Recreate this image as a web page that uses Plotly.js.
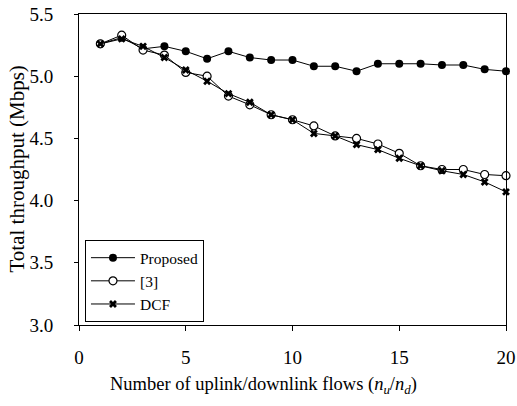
<!DOCTYPE html>
<html>
<head>
<meta charset="utf-8">
<script src="https://cdn.plot.ly/plotly-3.0.1.min.js"></script>
<style>html,body{margin:0;padding:0;background:#fff;}#chart{width:517px;height:406px;}</style>
</head>
<body>
<div id="chart"></div>
<script>
const flows = [1,2,3,4,5,6,7,8,9,10,11,12,13,14,15,16,17,18,19,20];
const proposed = [5.26,5.31,5.22,5.24,5.20,5.14,5.20,5.15,5.13,5.13,5.08,5.08,5.04,5.10,5.10,5.10,5.09,5.09,5.055,5.04];
const ref3 = [5.26,5.33,5.21,5.17,5.03,5.00,4.84,4.77,4.69,4.65,4.60,4.52,4.50,4.455,4.38,4.28,4.25,4.25,4.21,4.20];
const dcf = [5.26,5.30,5.24,5.15,5.05,4.96,4.86,4.79,4.69,4.65,4.54,4.52,4.45,4.41,4.34,4.28,4.24,4.21,4.15,4.07];
const seriesNames = ['Proposed','[3]','DCF'];
const xTicks = [0,5,10,15,20];
const yTicks = [3.0,3.5,4.0,4.5,5.0,5.5];
const xTitle = 'Number of uplink/downlink flows (<i>n<sub>u</sub></i>/<i>n<sub>d</sub></i>)';
const yTitle = 'Total throughput (Mbps)';

const font = 'Liberation Serif, Times New Roman, serif';
const traces = [
  {x: flows, y: proposed, name: seriesNames[0], mode: 'lines+markers', cliponaxis: false,
   line: {color: '#000', width: 1}, marker: {symbol: 'circle', size: 8, color: '#000'}},
  {x: flows, y: ref3, name: seriesNames[1], mode: 'lines+markers', cliponaxis: false,
   line: {color: '#000', width: 1}, marker: {symbol: 'circle', size: 8, color: '#fff', line: {color: '#000', width: 1.2}}},
  {x: flows, y: dcf, name: seriesNames[2], mode: 'lines+markers', cliponaxis: false,
   line: {color: '#000', width: 1}, marker: {symbol: 'x', size: 7, color: '#000', line: {width: 0}}}
];
const layout = {
  width: 517, height: 406,
  margin: {l: 79, r: 11, t: 14, b: 81},
  paper_bgcolor: '#fff', plot_bgcolor: '#fff',
  font: {family: font, size: 18, color: '#000'},
  showlegend: true,
  legend: {x: 0.014, y: 0.273, xanchor: 'left', yanchor: 'top', bgcolor: '#fff',
           bordercolor: '#000', borderwidth: 1, font: {family: font, size: 15.5, color: '#000'},
           tracegroupgap: 0, itemwidth: 44, entrywidth: 120, entrywidthmode: 'pixels'},
  xaxis: {range: [0, 20], tickvals: xTicks, ticktext: xTicks.map(String), showgrid: false, zeroline: false,
          showline: true, linecolor: '#000', linewidth: 1, mirror: true, ticks: 'outside', ticklen: 5,
          tickcolor: '#000', tickfont: {size: 19}, ticklabelstandoff: 10},
  yaxis: {range: [3, 5.5], tickvals: yTicks, ticktext: yTicks.map(v => v.toFixed(1)), showgrid: false, zeroline: false,
          showline: true, linecolor: '#000', linewidth: 1, mirror: true, ticks: 'outside', ticklen: 4,
          tickcolor: '#000', tickfont: {size: 19}, ticklabelstandoff: 17},
  annotations: [
    {text: xTitle, xref: 'paper', yref: 'paper', x: 0.433, y: -0.196, xanchor: 'center', yanchor: 'middle',
     showarrow: false, font: {family: font, size: 18.5, color: '#000'}},
    {text: yTitle, xref: 'paper', yref: 'paper', x: -0.1475, y: 0.5, xanchor: 'center', yanchor: 'middle',
     textangle: -90, showarrow: false, font: {family: font, size: 21, color: '#000'}}
  ]
};
Plotly.newPlot('chart', traces, layout, {displayModeBar: false, staticPlot: true});
</script>
</body>
</html>
